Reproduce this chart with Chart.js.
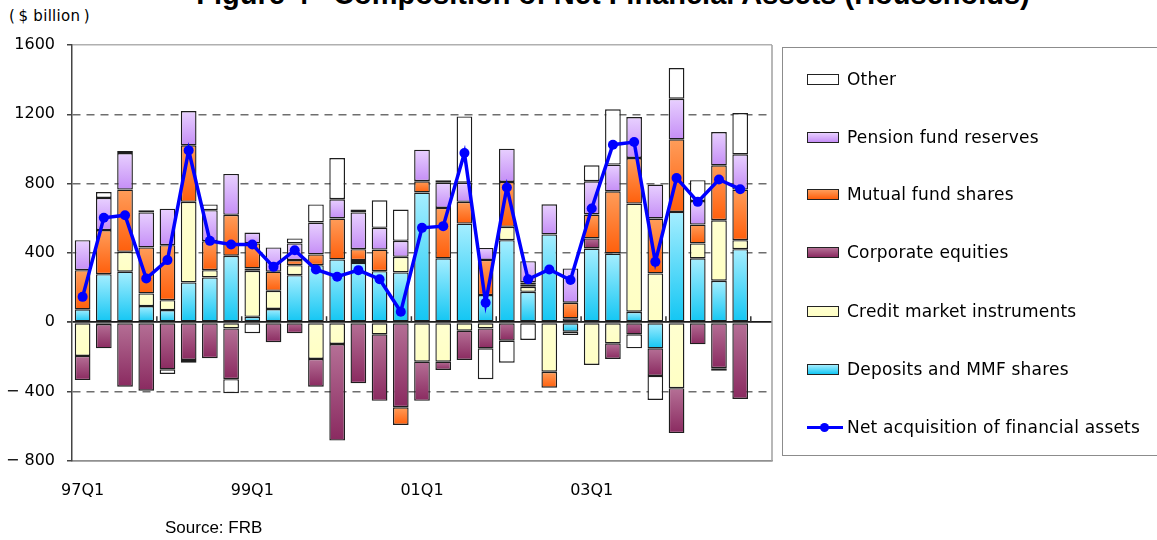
<!DOCTYPE html>
<html>
<head>
<meta charset="utf-8">
<script src="https://cdn.jsdelivr.net/npm/chart.js@4.4.1/dist/chart.umd.min.js"></script>
<style>
    body{margin:0;background:#fff;width:1157px;height:540px;overflow:hidden;position:relative;font-family:"DejaVu Sans",sans-serif}
    #wrap{position:absolute;left:0;top:0;width:790px;height:540px}
    #titulo{position:absolute;left:0;width:1226px;top:-20px;text-align:center;font:bold 29px "Liberation Sans",Arial,sans-serif;line-height:29px;white-space:pre}
    #unidad{position:absolute;left:9px;top:7px;font:15px "DejaVu Sans",sans-serif;letter-spacing:0.3px;white-space:pre}
    #fuente{position:absolute;left:165px;top:518px;font:17px "Liberation Sans",Arial,sans-serif}
    #leyenda{position:absolute;left:782px;top:47px;width:400px;height:409px;border:1.5px solid #8c8c8c;box-sizing:border-box}
    .item{position:absolute;left:807px;height:20px;font:17px "DejaVu Sans",sans-serif;letter-spacing:0.2px;white-space:nowrap}
    .item .sw{position:absolute;left:0;top:4px;width:32px;height:11px;border:1.5px solid #222;box-sizing:border-box}
    .item span{position:absolute;left:40px;top:-1px}
    .item .ln{position:absolute;left:0;top:8px;width:36px;height:3px;background:#0000ff}
    .item .pt{position:absolute;left:13px;top:5px;width:9px;height:9px;border-radius:50%;background:#0000ff}
</style>
</head>
<body>
<div id="titulo">Figure 4   Composition of Net Financial Assets (Households)</div>
<div id="unidad">(&#8201;$ billion&#8201;)</div>
<div id="wrap"><canvas id="grafico"></canvas></div>
<div id="leyenda"></div>
<div id="fuente">Source: FRB</div>
<script>
const trimestres = ['97Q1','97Q2','97Q3','97Q4','98Q1','98Q2','98Q3','98Q4',
                    '99Q1','99Q2','99Q3','99Q4','00Q1','00Q2','00Q3','00Q4',
                    '01Q1','01Q2','01Q3','01Q4','02Q1','02Q2','02Q3','02Q4',
                    '03Q1','03Q2','03Q3','03Q4','04Q1','04Q2','04Q3','04Q4','']

const depositos = [75, 278, 292, 94, 71, 230, 259, 384, 32, 77, 272, 330, 363, 343, 295, 288,
                   749, 369, 570, 157, 474, 176, 507, -54, 426, 397, 61, -150, 637, 369, 240, 422]
const credito = [-194, -10, 115, 73, 57, 465, 42, -35, 265, 105, 58, -211, -125, 16, -69, 90,
                 -227, -227, -48, -35, 77, 29, -285, 0, -246, -121, 624, 282, -380, 86, 349, 52]
const acciones = [-139, -140, -371, -394, -271, -217, -207, -293, 14, -115, -63, -160, -557, -351, -384, -490,
                  -226, -48, -169, -115, -106, 14, 0, 23, 58, -90, -69, -159, -259, -127, -265, -442]
const fondos = [226, 254, 359, 265, 317, 326, 167, 236, 144, 110, 29, 62, 236, 63, 125, -102,
                65, 291, 125, 203, 259, 11, -92, 90, 138, 359, 263, 317, 419, 109, 317, 292]
const pensiones = [173, 186, 211, 202, 211, 198, 179, 236, 63, 140, 96, 184, 111, 212, 125, 92,
                   182, 146, 111, 69, 192, 123, 174, 198, 192, 154, 236, 196, 234, 136, 192, 203]
const otros = [0, 34, 11, 13, -27, -16, 33, -81, -63, 0, 29, 104, 238, 17, 159, 181,
               0, 14, 382, -178, -127, -102, 0, -19, 92, 319, -81, -139, 177, 120, -15, 238]
const netoActivos = [147, 603, 618, 253, 359, 992, 470, 449, 449, 320, 416, 305, 263, 301, 249, 61,
                     545, 555, 977, 113, 778, 248, 305, 244, 657, 1025, 1040, 349, 833, 695, 824, 768]

// colores [claro arriba, oscuro abajo]
const colores = {
    dep : ['#a6eeff', '#12c6f3'],
    cre : ['#ffffd0', '#ffffc4'],
    acc : ['#b57096', '#8a2a60'],
    fon : ['#ff9d5a', '#ff5f0c'],
    pen : ['#e8d0ff', '#c58ef6'],
    otr : ['#ffffff', '#ffffff']
}

function relleno(clave){
    return function(c){
        const col = colores[clave];
        if(c.type !== 'data') return col[1];
        const chart = c.chart;
        const ys = chart.scales.y;
        if(!ys || !chart.chartArea) return col[1];
        const j = c.dataIndex, i = c.datasetIndex;
        const v = c.raw;
        let base = 0;
        for(let k = 0; k < i; k++){
            const ds = chart.data.datasets[k];
            if(ds.type === 'line') continue;
            const w = ds.data[j];
            if((v >= 0 && w > 0) || (v < 0 && w < 0)) base += w;
        }
        const p1 = ys.getPixelForValue(base), p2 = ys.getPixelForValue(base + v);
        const arriba = Math.min(p1, p2), abajo = Math.max(p1, p2);
        if(!isFinite(arriba) || abajo - arriba < 1) return col[1];
        const g = chart.ctx.createLinearGradient(0, arriba, 0, abajo);
        g.addColorStop(0, col[0]);
        g.addColorStop(1, col[1]);
        return g;
    }
}

function barra(label, data, clave){
    return {
        type: 'bar',
        label: label,
        data: data,
        backgroundColor: relleno(clave),
        borderColor: '#1e1e1e',
        borderWidth: 1.4,
        borderSkipped: false,
        barPercentage: 0.74,
        categoryPercentage: 1,
        order: 1
    }
}

const datasets = [
    barra('Deposits and MMF shares', depositos, 'dep'),
    barra('Credit market instruments', credito, 'cre'),
    barra('Corporate equities', acciones, 'acc'),
    barra('Mutual fund shares', fondos, 'fon'),
    barra('Pension fund reserves', pensiones, 'pen'),
    barra('Other', otros, 'otr'),
    {
        type: 'line',
        label: 'Net acquisition of financial assets',
        data: netoActivos,
        stack: 'neto',
        borderColor: '#0000ff',
        backgroundColor: '#0000ff',
        borderWidth: 3.5,
        pointRadius: 5,
        pointBorderWidth: 0,
        pointBackgroundColor: '#0000ff',
        tension: 0,
        order: 0
    }
]

// marco gris y marcas del eje en la linea cero
const marco = {
    id: 'marco',
    beforeDatasetsDraw(chart){
        const {ctx, chartArea: a} = chart;
        ctx.save();
        ctx.strokeStyle = '#a0a0a0';
        ctx.lineWidth = 1.5;
        ctx.beginPath();
        ctx.moveTo(a.right, a.top);
        ctx.lineTo(a.right, a.bottom);
        ctx.stroke();
        ctx.restore();
    },
    afterDatasetsDraw(chart){
        const {ctx, scales: {x, y}} = chart;
        const y0 = y.getPixelForValue(0);
        ctx.save();
        ctx.strokeStyle = '#333';
        ctx.lineWidth = 1.5;
        ctx.beginPath();
        for(let k = 4; k < trimestres.length; k += 4){
            const px = (x.getPixelForValue(k - 1) + x.getPixelForValue(k)) / 2;
            ctx.moveTo(px, y0);
            ctx.lineTo(px, y0 - 6);
        }
        ctx.stroke();
        ctx.restore();
    }
}

const punteadas = [1200, 800, 400, -400];

Chart.defaults.font.family = '"DejaVu Sans", sans-serif';
Chart.defaults.color = '#000';

new Chart(document.getElementById('grafico'), {
    data: {
        labels: trimestres,
        datasets: datasets
    },
    plugins: [marco],
    options: {
        responsive: true,
        maintainAspectRatio: false,
        animation: false,
        layout: { padding: { left: 0, top: 45, right: 18, bottom: 39 } },
        plugins: {
            legend: { display: false },
            tooltip: { enabled: false }
        },
        scales: {
            x: {
                stacked: true,
                offset: true,
                grid: { display: false, drawTicks: false },
                border: { display: true, color: '#909090', width: 1.5 },
                ticks: {
                    autoSkip: false,
                    maxRotation: 0,
                    padding: 20,
                    font: { size: 16 },
                    callback: function(v, i){ return i % 8 === 0 ? trimestres[i] : '' }
                },
                afterFit: function(s){ s.height = 40 }
            },
            y: {
                stacked: true,
                min: -800,
                max: 1600,
                ticks: {
                    stepSize: 400,
                    padding: 12,
                    font: { size: 16 },
                    callback: function(v){ return v < 0 ? '− ' + Math.abs(v) : v }
                },
                grid: {
                    color: function(c){
                        const v = c.tick ? c.tick.value : null;
                        if(v === 0) return '#1a1a1a';
                        if(v === 1600) return '#b0b0b0';
                        if(v === -800) return '#909090';
                        return '#6e6e6e';
                    },
                    lineWidth: function(c){
                        const v = c.tick ? c.tick.value : null;
                        return v === 0 ? 1.8 : 1.5;
                    },
                    tickColor: '#444',
                    tickLength: 5,
                    tickBorderDash: []
                },
                border: {
                    display: true,
                    color: '#444',
                    width: 1.5,
                    dash: function(c){
                        const v = c.tick ? c.tick.value : null;
                        return punteadas.includes(v) ? [8, 6] : [];
                    }
                },
                afterFit: function(s){ s.width = 72 }
            }
        }
    }
});

// leyenda
const leyenda = [
    ['Other', 'otr', 79],
    ['Pension fund reserves', 'pen', 137],
    ['Mutual fund shares', 'fon', 194],
    ['Corporate equities', 'acc', 252],
    ['Credit market instruments', 'cre', 311],
    ['Deposits and MMF shares', 'dep', 369],
    ['Net acquisition of financial assets', null, 427]
];
leyenda.forEach(function(it){
    const d = document.createElement('div');
    d.className = 'item';
    d.style.top = (it[2] - 9) + 'px';
    if(it[1]){
        const col = colores[it[1]];
        d.innerHTML = '<div class="sw" style="background:linear-gradient(' + col[0] + ',' + col[1] + ')"></div><span>' + it[0] + '</span>';
    }else{
        d.innerHTML = '<div class="ln"></div><div class="pt"></div><span>' + it[0] + '</span>';
    }
    document.body.appendChild(d);
});
</script>
</body>
</html>
